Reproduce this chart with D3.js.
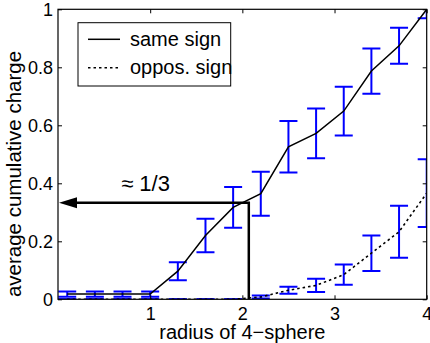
<!DOCTYPE html>
<html><head><meta charset="utf-8">
<script src="https://cdn.jsdelivr.net/npm/d3@7/dist/d3.min.js"></script>
<style>
html,body{margin:0;padding:0;background:#fff;}
svg{display:block;font-family:"Liberation Sans",Arial,Helvetica,sans-serif;}
</style></head>
<body>
<svg id="c" width="430" height="343"></svg>
<script>
const radius = [0.1,0.4,0.7,1.0,1.3,1.6,1.9,2.2,2.5,2.8,3.1,3.4,3.7,4.0];
const sameSign = [0.018,0.018,0.018,0.018,0.097,0.22,0.317,0.364,0.526,0.572,0.649,0.787,0.874,1.0];
const sameErr  = [0.009,0.009,0.009,0.009,0.031,0.058,0.07,0.076,0.089,0.086,0.084,0.078,0.062,0.031];
const oppSign  = [0,0,0,0,0,0,0,0.008,0.031,0.048,0.085,0.159,0.233,0.366];
const oppErr   = [0,0,0,0,0,0,0,0.005,0.012,0.023,0.035,0.061,0.09,0.117];
const xTicks = [1,2,3,4];
const yTicks = [0,0.2,0.4,0.6,0.8,1];
const seriesNames = ["same sign","oppos. sign"];
const arrowX = 2.07, arrowY = 1/3;
const annotText = "\u2248 1/3";
const xLabel = "radius of 4\u2212sphere";
const yLabel = "average cumulative charge";

const L=58, R=426.7, T=9.3, B=299.3;
const x = d3.scaleLinear().domain([0,4]).range([L,R]);
const y = d3.scaleLinear().domain([0,1]).range([B,T]);
const svg = d3.select("#c");

svg.append("defs").append("clipPath").attr("id","clip")
  .append("rect").attr("x",L).attr("y",T).attr("width",R-L).attr("height",B-T);

const plot = svg.append("g").attr("clip-path","url(#clip)");
const blue = "#0000ff";
const cap = 9;

function errorbars(vals, errs){
  const g = plot.append("g").attr("stroke",blue).attr("stroke-width",2).attr("fill","none");
  radius.forEach((r,i)=>{
    const cx = x(r), lo = y(vals[i]-errs[i]), hi = y(vals[i]+errs[i]);
    g.append("line").attr("x1",cx).attr("x2",cx).attr("y1",lo).attr("y2",hi);
    g.append("line").attr("x1",cx-cap).attr("x2",cx+cap).attr("y1",lo).attr("y2",lo);
    g.append("line").attr("x1",cx-cap).attr("x2",cx+cap).attr("y1",hi).attr("y2",hi);
  });
}
errorbars(sameSign, sameErr);
errorbars(oppSign, oppErr);

const line = d3.line().x((d,i)=>x(radius[i])).y(d=>y(d));
plot.append("path").datum(sameSign).attr("d",line).attr("fill","none").attr("stroke","#000").attr("stroke-width",1.5);
plot.append("path").datum(oppSign).attr("d",line).attr("fill","none").attr("stroke","#000").attr("stroke-width",1.6).attr("stroke-dasharray","2.5,3");

// annotation arrow
svg.append("path")
  .attr("d",`M${x(arrowX)},${y(0)}V${y(arrowY)}H${x(0)+16}`)
  .attr("fill","none").attr("stroke","#000").attr("stroke-width",2.5);
svg.append("path")
  .attr("d",`M${x(0)+1},${y(arrowY)}L${x(0)+19},${y(arrowY)-5.5}L${x(0)+19},${y(arrowY)+5.5}Z`)
  .attr("fill","#000");
svg.append("text").attr("x",x(0.95)).attr("y",y(arrowY)-12).attr("text-anchor","middle")
  .attr("font-size",22).text(annotText);

// axes
const fmt = d=>d3.format("~g")(d);
const ax = svg.append("g").attr("transform",`translate(0,${B})`)
  .call(d3.axisBottom(x).tickValues(xTicks).tickSize(-4).tickPadding(8).tickFormat(fmt));
const ay = svg.append("g").attr("transform",`translate(${L},0)`)
  .call(d3.axisLeft(y).tickValues(yTicks).tickSize(-4).tickPadding(5).tickFormat(fmt));
const at = svg.append("g").attr("transform",`translate(0,${T})`)
  .call(d3.axisTop(x).tickValues(xTicks).tickSize(-4).tickFormat(""));
const ar = svg.append("g").attr("transform",`translate(${R},0)`)
  .call(d3.axisRight(y).tickValues(yTicks).tickSize(-4).tickFormat(""));
[ax,ay,at,ar].forEach(g=>{
  g.select(".domain").remove();
  g.selectAll("line").attr("stroke","#000");
  g.selectAll("text").attr("font-size",18).attr("fill","#000").attr("font-family",null);
});
svg.append("rect").attr("x",L).attr("y",T).attr("width",R-L).attr("height",B-T)
  .attr("fill","none").attr("stroke","#000").attr("stroke-width",1.2);

svg.append("text").attr("x",(L+R)/2).attr("y",338.5).attr("text-anchor","middle")
  .attr("font-size",20).text(xLabel);
svg.append("text").attr("transform",`translate(21,174) rotate(-90)`).attr("text-anchor","middle")
  .attr("font-size",20.5).text(yLabel);

// legend
const lg = svg.append("g");
lg.append("rect").attr("x",78).attr("y",22.7).attr("width",152.7).attr("height",63.3)
  .attr("fill","#fff").attr("stroke","#000").attr("stroke-width",1);
const rowsY = [39.3,67.7];
seriesNames.forEach((n,i)=>{
  lg.append("line").attr("x1",88).attr("x2",120).attr("y1",rowsY[i]).attr("y2",rowsY[i])
    .attr("stroke","#000").attr("stroke-width",1.5).attr("stroke-dasharray",i? "2.5,3":null);
  lg.append("text").attr("x",130).attr("y",rowsY[i]+6.5).attr("font-size",20).text(n);
});
</script>
</body></html>
